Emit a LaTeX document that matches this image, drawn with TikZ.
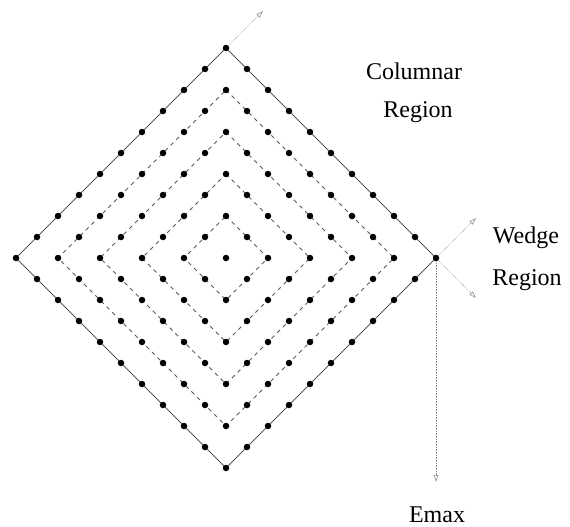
\documentclass[tikz,border=0pt]{standalone}
\usepackage{fontspec}
\setmainfont{Liberation Serif}
\usetikzlibrary{arrows.meta}
\tikzset{
  lattdot/.style={circle,fill=black,inner sep=0pt,minimum size=6.5pt},
  ringsolid/.style={draw=black!65,line width=0.8pt},
  ringdash/.style={draw=black!65,line width=0.8pt,dash pattern=on 4pt off 4pt},
  regarrow/.style={-{Triangle[open,length=7pt,width=4.5pt]},densely dotted,
    draw=black!45,line width=0.6pt},
  reglabel/.style={font=\fontsize{24}{28}\selectfont,inner sep=0pt},
}

\begin{document}
\begin{tikzpicture}[x=1pt,y=-1pt]
\useasboundingbox (0,0) rectangle (570,527);
% rings round the centre (226,258): dashed inside, solid outside
\foreach \r in {42,84,126,168}
  \draw[ringdash] (226,{258-\r}) -- ({226+\r},258) -- (226,{258+\r})
    -- ({226-\r},258) -- cycle;
\draw[ringsolid] (226,48) -- (436,258) -- (226,468) -- (16,258) -- cycle;
% lattice dots, step 21
\foreach \i in {-10,...,10}
  \foreach \j in {-10,...,10}{
    \pgfmathtruncatemacro\s{abs(\i)+abs(\j)}
    \pgfmathtruncatemacro\p{mod(\s,2)}
    \ifnum\s<11 \ifnum\p=0
      \node[lattdot] (p\i-\j) at ({226+21*\i},{258+21*\j}) {};
    \fi\fi
  }
% region arrows
\coordinate (colTip) at (263,11);
\coordinate (wedgeUp) at (476,218);
\coordinate (wedgeDown) at (476,298);
\coordinate (emaxTip) at (436,482);
\draw[regarrow] (p0--10) -- (colTip);
\draw[regarrow] (p10-0) -- (wedgeUp);
\draw[regarrow] (p10-0) -- (wedgeDown);
\draw[regarrow] (p10-0) -- (emaxTip);
% labels
\node[reglabel] (col) at (414,71) {Columnar};
\node[reglabel] (colreg) at (418,112) {Region};
\node[reglabel] (wedge) at (526,238) {Wedge};
\node[reglabel] (wedreg) at (527,280) {Region};
\node[reglabel] (emax) at (437,515) {Emax};
\end{tikzpicture}
\end{document}
